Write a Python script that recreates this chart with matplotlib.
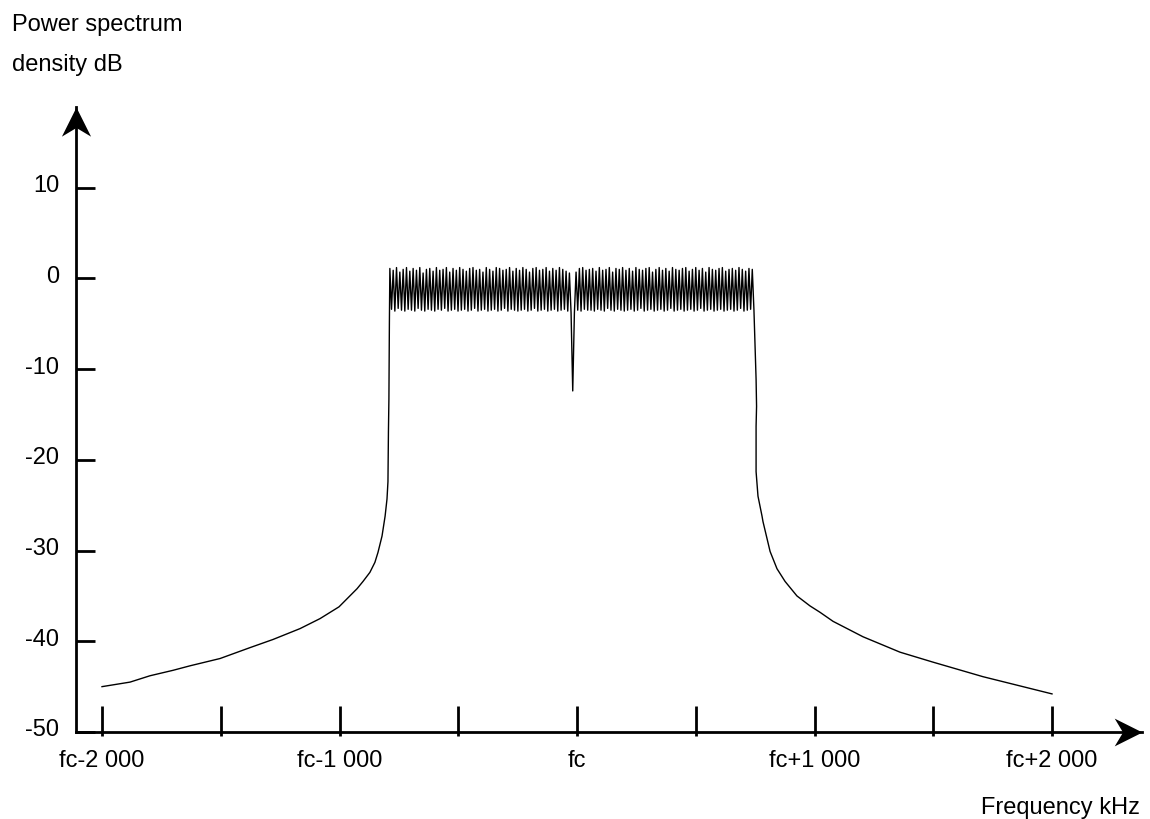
import numpy as np
import matplotlib.pyplot as plt
from matplotlib.path import Path
from matplotlib.transforms import ScaledTranslation

plt.rcParams['font.family'] = ['Liberation Sans', 'DejaVu Sans']

# lower skirt (kHz from fc, dB)
lower_f = [-2000, -1882, -1798, -1701, -1629, -1503, -1377, -1280, -1166, -1082, -1002,
           -968, -926, -901, -872, -851, -838, -821, -808, -800, -796, -794, -792, -790]
lower_db = [-45.0, -44.5, -43.8, -43.2, -42.7, -41.9, -40.7, -39.8, -38.6, -37.5, -36.2,
            -35.3, -34.2, -33.4, -32.4, -31.3, -30.2, -28.4, -26.2, -24.3, -22.4, -16.9, -13.3, -5.0]

# in-band ripple, alternating peaks and troughs, carrier notch near fc
band_start, band_end = -788, 745
band_db = [
    1.1, -3.4, 0.9, -3.6, 1.2, -3.3, 0.7, -3.5, 1.0, -3.6, 1.2, -3.4, 0.8, -3.5, 1.1, -3.6, 0.9, -3.3, 1.2, -3.5,
    0.6, -3.6, 1.0, -3.4, 1.1, -3.5, 0.8, -3.6, 1.2, -3.4, 0.9, -3.5, 1.0, -3.3, 1.2, -3.6, 0.7, -3.5, 1.1, -3.4,
    0.9, -3.6, 1.2, -3.5, 1.0, -3.4, 0.8, -3.6, 1.1, -3.5, 1.2, -3.3, 0.9, -3.6, 1.0, -3.5, 0.7, -3.4, 1.2, -3.6,
    1.0, -3.5, 0.8, -3.4, 1.2, -3.6, 1.1, -3.5, 0.9, -3.3, 1.0, -3.6, 1.2, -3.4, 0.8, -3.5, 1.1, -3.6, 0.9, -3.5,
    1.2, -3.4, 1.0, -3.6, 0.7, -3.5, 1.1, -3.3, 1.2, -3.6, 0.9, -3.5, 1.0, -3.4, 1.2, -3.6, 0.8, -3.5, 1.1, -3.4,
    0.9, -3.6, 1.2, -3.5, 1.0, -3.4, 0.8, -3.6, 0.6, -3.8, -12.4, -3.8, 0.7, -3.5, 1.1, -3.6, 1.2, -3.4, 0.9, -3.5,
    1.0, -3.5, 1.1, -3.6, 0.8, -3.4, 1.2, -3.5, 0.9, -3.6, 1.0, -3.3, 1.2, -3.5, 0.7, -3.6, 1.1, -3.4, 1.0, -3.5,
    1.2, -3.6, 0.9, -3.5, 1.1, -3.4, 0.8, -3.6, 1.2, -3.5, 1.0, -3.3, 0.9, -3.6, 1.1, -3.5, 1.2, -3.4, 0.7, -3.6,
    1.0, -3.5, 1.2, -3.4, 0.9, -3.6, 1.1, -3.5, 0.8, -3.3, 1.2, -3.6, 1.0, -3.5, 0.9, -3.4, 1.1, -3.6, 1.2, -3.5,
    0.8, -3.4, 1.0, -3.6, 1.2, -3.5, 0.9, -3.3, 1.1, -3.6, 0.7, -3.5, 1.2, -3.4, 1.0, -3.6, 0.9, -3.5, 1.1, -3.4,
    1.2, -3.6, 0.8, -3.5, 1.0, -3.4, 1.1, -3.6, 0.9, -3.5, 1.2, -3.3, 1.0, -3.6, 0.8, -3.5, 1.1, -3.4, 1.0, -3.5,
]

# upper skirt
upper_f = [750, 754, 756, 754, 754, 762, 779, 783, 800, 813, 842, 876, 926, 981, 1023,
           1078, 1137, 1204, 1360, 1499, 1709, 2000]
upper_db = [-7.8, -11.1, -14.1, -16.3, -21.3, -24.0, -26.2, -26.8, -28.7, -30.1, -32.0, -33.4, -35.0, -36.1, -36.8,
            -37.8, -38.6, -39.5, -41.2, -42.3, -43.9, -45.8]

xticks = [-2000, -1500, -1000, -500, 0, 500, 1000, 1500, 2000]
xlabels = ['fc-2 000', '', 'fc-1 000', '', 'fc', '', 'fc+1 000', '', 'fc+2 000']
yticks = [-50, -40, -30, -20, -10, 0, 10]
ylabels = ['-50', '-40', '-30', '-20', '-10', '0', '10']

band_f = np.linspace(band_start, band_end, len(band_db))
freq = np.concatenate([lower_f, band_f, upper_f])
psd = np.concatenate([lower_db, band_db, upper_db])

fig = plt.figure(figsize=(11.5, 8.2), dpi=100)
ax = fig.add_axes([76 / 1150, 87 / 820, (1142 - 76) / 1150, (733 - 108) / 820])

ax.plot(freq, psd, color='black', lw=1.0)

ax.set_xlim(-2109.5, 2378.9)
ax.set_ylim(-50, 18.9)

for s in ['top', 'right']:
    ax.spines[s].set_visible(False)
for s in ['left', 'bottom']:
    ax.spines[s].set_linewidth(2.0)

ax.set_xticks(xticks)
ax.set_xticklabels(xlabels)
ax.set_xticks(xticks, minor=True)
ax.xaxis.remove_overlapping_locs = False
ax.set_yticks(yticks)
ax.set_yticklabels(ylabels)

ax.tick_params(axis='x', which='major', direction='in', length=19, width=2.0, pad=12.5, labelsize=17)
ax.tick_params(axis='x', which='minor', direction='out', length=3, width=2.0, labelbottom=False)
ax.tick_params(axis='y', direction='in', length=14, width=2.0, pad=12, labelsize=17)

# y labels sit a little above their ticks
off = ScaledTranslation(0, 5 / 100, fig.dpi_scale_trans)
for lab in ax.get_yticklabels():
    lab.set_transform(lab.get_transform() + off)

# arrow heads at the ends of the axes
up_head = Path([(0, 0), (-0.5, -1), (0, -0.7), (0.5, -1), (0, 0)],
               [Path.MOVETO, Path.LINETO, Path.LINETO, Path.LINETO, Path.CLOSEPOLY])
right_head = Path([(0, 0), (-1, 0.5), (-0.7, 0), (-1, -0.5), (0, 0)],
                  [Path.MOVETO, Path.LINETO, Path.LINETO, Path.LINETO, Path.CLOSEPOLY])
x0, x1 = ax.get_xlim()
y0, y1 = ax.get_ylim()
ax.plot([x0], [y1], marker=up_head, markersize=42, color='black', mew=0, clip_on=False, zorder=5)
ax.plot([x1], [y0], marker=right_head, markersize=40, color='black', mew=0, clip_on=False, zorder=5)

fig.text(12 / 1150, 1 - 25 / 820, 'Power spectrum', fontsize=17, va='center', ha='left')
fig.text(12 / 1150, 1 - 65 / 820, 'density dB', fontsize=17, va='center', ha='left')
fig.text(1140 / 1150, 1 - 808 / 820, 'Frequency kHz', fontsize=17, va='center', ha='right')

fig.savefig('out.png', dpi=100, facecolor='white')
